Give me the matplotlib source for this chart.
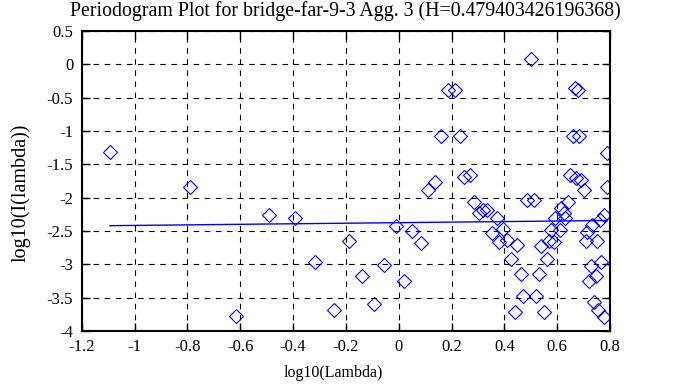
import matplotlib.pyplot as plt
import numpy as np

plt.rcParams['font.family'] = ['Liberation Serif', 'DejaVu Serif']

# log10(lambda), log10(I(lambda))
log_lambda = [-1.093, -0.789, -0.492, -0.394, -0.315, -0.615, -0.246, -0.189, -0.138,
              -0.054, -0.092, -0.012, 0.022, 0.051, 0.083, 0.110, 0.137, 0.162, 0.186,
              0.212, 0.231, 0.247, 0.270, 0.287, 0.304, 0.320, 0.336, 0.371, 0.355,
              0.380, 0.396, 0.411, 0.449, 0.424, 0.464, 0.472, 0.439, 0.500, 0.487,
              0.512, 0.521, 0.531, 0.550, 0.540, 0.560, 0.569, 0.578, 0.588, 0.591,
              0.611, 0.614, 0.626, 0.641, 0.630, 0.649, 0.667, 0.677, 0.660, 0.683,
              0.670, 0.692, 0.700, 0.708, 0.712, 0.730, 0.750, 0.727, 0.765, 0.746,
              0.721, 0.740, 0.753, 0.778, 0.762, 0.778, 0.790, 0.788]
log_I = [-1.32, -1.84, -2.26, -2.31, -2.97, -3.77, -3.69, -2.65, -3.18,
         -3.01, -3.59, -2.43, -3.25, -2.50, -2.68, -1.88, -1.76, -1.08, -0.39,
         -0.38, -1.08, -1.69, -1.66, -2.06, -2.23, -2.18, -2.19, -2.30, -2.53,
         -2.66, -2.47, -2.64, -2.71, -2.92, -3.15, -3.48, -3.72, 0.08, -2.04,
         -2.04, -3.48, -3.15, -3.72, -2.72, -2.92, -2.65, -2.48, -2.66, -2.30,
         -2.49, -2.16, -2.23, -2.06, -2.30, -1.66, -0.36, -0.39, -1.08, -1.08,
         -1.71, -1.74, -1.89, -2.65, -2.51, -2.41, -2.65, -3.02, -2.97, -3.18,
         -3.25, -3.56, -3.69, -3.79, -2.33, -2.26, -1.33, -1.84]

slope = 0.0412
intercept = -2.375

fig = plt.figure(figsize=(6.73, 3.87), dpi=100)
ax = fig.add_axes([0.1214, 0.1447, 0.785, 0.7752])

ax.plot(log_lambda, log_I, linestyle='none', marker='D', markersize=7,
        markerfacecolor='none', markeredgecolor='blue', markeredgewidth=0.8)

xs = np.sort(np.array(log_lambda))
ax.plot(xs, slope * xs + intercept, color='blue', linewidth=1)

ax.set_xlim(-1.2, 0.8)
ax.set_ylim(-4, 0.5)
ax.set_xticks(np.arange(-1.2, 0.81, 0.2))
ax.set_xticklabels(['-1.2', '-1', '-0.8', '-0.6', '-0.4', '-0.2', '0', '0.2', '0.4', '0.6', '0.8'])
ax.set_yticks(np.arange(-4, 0.51, 0.5))
ax.set_yticklabels(['-4', '-3.5', '-3', '-2.5', '-2', '-1.5', '-1', '-0.5', '0', '0.5'])
ax.tick_params(direction='in', top=True, right=True, length=6, width=1, labelsize=12, pad=6)
ax.grid(True, color='black', linestyle=(0, (5, 5)), linewidth=0.8)
for s in ax.spines.values():
    s.set_linewidth(1.5)

ax.set_title('Periodogram Plot for bridge-far-9-3 Agg. 3 (H=0.479403426196368)', fontsize=14.3, pad=11)
ax.set_xlabel('log10(Lambda)', fontsize=11.5)
ax.xaxis.set_label_coords(0.477, -0.113)
ax.set_ylabel('log10(I(lambda))', fontsize=14.5)
ax.yaxis.set_label_coords(-0.097, 0.46)

fig.savefig('out.png', dpi=100)
